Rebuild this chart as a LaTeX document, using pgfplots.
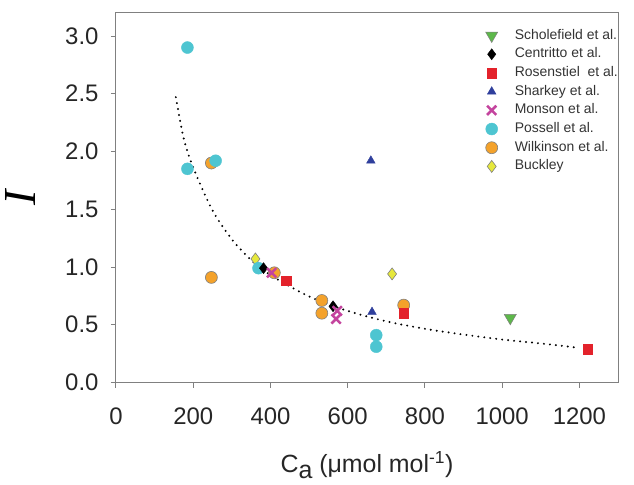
\documentclass[border=0pt]{standalone}
\usepackage{fontspec}
\setmainfont{Liberation Sans}
\newfontfamily\seriffont{Liberation Serif}
\usepackage{pgfplots}
\pgfplotsset{compat=1.18}

\definecolor{cgreen}{HTML}{5DB84A}
\definecolor{cred}{HTML}{E3222B}
\definecolor{cblue}{HTML}{2F3F9C}
\definecolor{cmag}{HTML}{C4449E}
\definecolor{ccyan}{HTML}{4EC5D1}
\definecolor{corange}{HTML}{F4A22B}
\definecolor{cyellow}{HTML}{E6E83C}

\pgfplotsset{
  scholefield/.style={only marks, mark=triangle*, mark options={rotate=180, fill=cgreen, draw=gray, line width=0.5bp}, mark size=7bp},
  centritto/.style={only marks, mark=diamond*, mark options={fill=black, draw=black}, mark size=5.5bp},
  rosenstiel/.style={only marks, mark=square*, mark options={fill=cred, draw=cred}, mark size=4.8bp},
  sharkey/.style={only marks, mark=triangle*, mark options={fill=cblue, draw=cblue}, mark size=5bp},
  monson/.style={only marks, mark=x, mark options={draw=cmag, line width=2.6bp}, mark size=6.5bp},
  possell/.style={only marks, mark=*, mark options={fill=ccyan, draw=ccyan}, mark size=6bp},
  wilkinson/.style={only marks, mark=*, mark options={fill=corange, draw=gray, line width=0.6bp}, mark size=6bp},
  buckley/.style={only marks, mark=diamond*, mark options={fill=cyellow, draw=gray, line width=0.6bp}, mark size=6bp},
}

\begin{document}
\begin{tikzpicture}
\begin{axis}[
  scale only axis, width=502bp, height=369.6bp,
  xmin=0, xmax=1300, ymin=0, ymax=3.2,
  xtick={0,200,400,600,800,1000,1200},
  ytick={0,0.5,1,1.5,2,2.5,3},
  xticklabel style={yshift=-17bp, /pgf/number format/set thousands separator={}},
  yticklabel style={xshift=-9bp, /pgf/number format/.cd, fixed, fixed zerofill, precision=1},
  /pgf/number format/assume math mode=true,
  tick align=outside, tick pos=left, major tick length=5bp,
  axis line style={gray, line width=1bp},
  every tick/.style={gray, line width=1bp},
  tick label style={font=\fontsize{24}{28}\selectfont, text=black!85},
  xlabel={C\raisebox{-0.45ex}{a} (μmol mol\textsuperscript{-1})},
  xlabel style={font=\fontsize{25}{30}\selectfont, text=black!85, yshift=-20bp},
  ylabel={\seriffont\itshape I},
  ylabel style={font=\fontsize{46}{50}\selectfont, at={(axis description cs:-0.19,0.5)}, anchor=center},
  legend style={at={(0.730,0.965)}, anchor=north west, draw=none, fill=none,
    font=\fontsize{14}{16}\selectfont, text=black!80,
    nodes={inner ysep=1bp, inner xsep=10bp, text height=10bp, text depth=3bp},
    /tikz/every odd column/.append style={column sep=7bp},
    row sep=3.7bp},
  legend cell align=left,
]
% drawing order (bottom to top)
\addplot[wilkinson, forget plot]
  coordinates {(247,1.90) (247,0.91) (410,0.95) (533,0.71) (533,0.60) (745,0.67)};
\addplot[buckley, forget plot]
  coordinates {(361,1.07) (715,0.94)};
\addplot[possell, forget plot]
  coordinates {(185,2.90) (185,1.85) (258,1.92) (369,0.99) (674,0.41) (674,0.31)};
\addplot[centritto, forget plot]
  coordinates {(382,0.99) (562,0.66)};
\addplot[monson, forget plot]
  coordinates {(403,0.95) (573,0.62) (570,0.55)};
\addplot[rosenstiel, forget plot]
  coordinates {(440,0.88) (745,0.60) (1222,0.29)};
\addplot[sharkey, forget plot]
  coordinates {(660,1.92) (663,0.61)};
\addplot[scholefield, forget plot]
  coordinates {(1021,0.56)};
% fitted curve
\addplot[forget plot, black, line width=2.2bp, line cap=round, dash pattern=on 0pt off 6bp, smooth]
  coordinates {(155,2.47) (175,2.12) (200,1.86) (250,1.49) (300,1.24) (350,1.06) (400,0.93)
  (500,0.745) (600,0.62) (700,0.53) (800,0.465) (900,0.415) (1000,0.372) (1100,0.338) (1200,0.30)};

\addlegendimage{scholefield}\addlegendentry{Scholefield et al.}
\addlegendimage{centritto}\addlegendentry{Centritto et al.}
\addlegendimage{rosenstiel}\addlegendentry{Rosenstiel\ \ et al.}
\addlegendimage{sharkey}\addlegendentry{Sharkey et al.}
\addlegendimage{monson}\addlegendentry{Monson et al.}
\addlegendimage{possell}\addlegendentry{Possell et al.}
\addlegendimage{wilkinson}\addlegendentry{Wilkinson et al.}
\addlegendimage{buckley}\addlegendentry{Buckley}
\end{axis}
\pgfresetboundingbox
\path (current axis.south west) ++(-116bp,-102.5bp) rectangle ++(634bp,485bp);
\end{tikzpicture}
\end{document}
